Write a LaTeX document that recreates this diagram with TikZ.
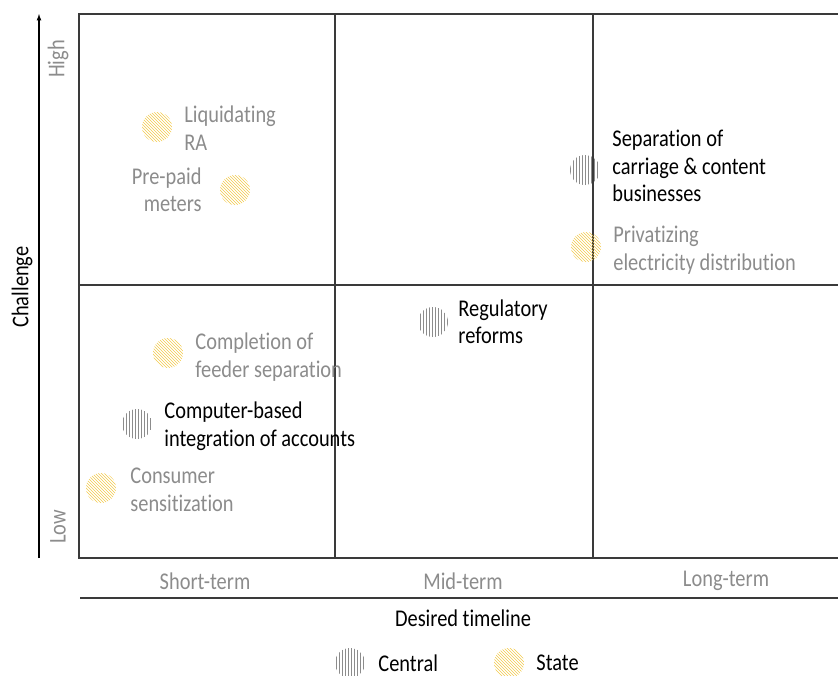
\documentclass[tikz,border=0pt]{standalone}
\usepackage{fontspec}
\setmainfont[FakeStretch=0.85, Ligatures=NoCommon]{Carlito}
\usetikzlibrary{positioning,patterns}
\definecolor{txtgray}{HTML}{8C8C8C}
\definecolor{stateyellow}{HTML}{F2C94C}
\definecolor{linegray}{HTML}{3A3A3A}

\begin{document}
\begin{tikzpicture}[x=1pt, y=-1pt, node distance=12pt,
  every node/.style={font=\fontsize{24}{27.5}\selectfont, inner sep=0pt},
  central/.style={circle, minimum size=30pt, pattern=vertical lines, pattern color=gray!90},
  state/.style={circle, minimum size=30pt, pattern=north west lines, pattern color=stateyellow},
  keylabel/.style={align=left, text=black},
  minorlabel/.style={align=left, text=txtgray}]
\useasboundingbox (0,0) rectangle (838,675);
% Quadrant grid
\draw[linegray, line width=1.5pt] (838,14) -- (79,14) -- (79,558) -- (838,558);
\draw[linegray, line width=1.5pt] (335,14) -- (335,558);
\draw[linegray, line width=1.5pt] (593,14) -- (593,558);
\draw[linegray, line width=1.5pt] (79,285) -- (838,285);
% Axes
\draw[-latex, line width=1.2pt] (39,558) -- (39,14);
\draw[linegray, line width=2pt] (80,598) -- (838,598);
\node[rotate=90] (yaxis) at (22,287) {Challenge};
\node[rotate=90, text=txtgray] (high) at (58,59) {High};
\node[rotate=90, text=txtgray] (low) at (58,527) {Low};
\node[text=txtgray] (short) at (205,581) {Short-term};
\node[text=txtgray] (mid) at (463,581) {Mid-term};
\node[text=txtgray] (long) at (726,581) {Long-term};
\node (xaxis) at (463,618) {Desired timeline};
% Short-term, high challenge
\node[state] (liq) at (157,127) {};
\node[minorlabel, right=of liq, yshift=-1pt] (liqtxt) {Liquidating\\RA};
\node[state] (prepaid) at (235,190) {};
\node[minorlabel, align=right, left=18pt of prepaid] (prepaidtxt) {Pre-paid\\meters};
% Long-term, high challenge
\node[central] (sep) at (585,170) {};
\node[keylabel, right=of sep, yshift=4pt] (septxt) {Separation of\\carriage \& content\\businesses};
\node[state] (priv) at (586,247) {};
\node[minorlabel, right=of priv, yshift=-3pt] (privtxt) {Privatizing\\electricity distribution};
% Mid-term, low challenge
\node[central] (reg) at (433,322) {};
\node[keylabel, right=10pt of reg] (regtxt) {Regulatory\\reforms};
% Short-term, low challenge
\node[state] (feeder) at (168,353) {};
\node[minorlabel, right=of feeder, yshift=-4pt] (feedertxt) {Completion of\\feeder separation};
\node[central] (acct) at (137,424) {};
\node[keylabel, right=of acct, yshift=-2pt] (accttxt) {Computer-based\\integration of accounts};
\node[state] (sens) at (101,488) {};
\node[minorlabel, right=14pt of sens, yshift=-2pt] (senstxt) {Consumer\\sensitization};
% Legend
\node[central] (keycentral) at (350,663) {};
\node[right=13pt of keycentral] (keycentraltxt) {Central};
\node[state] (keystate) at (509,663) {};
\node[right=of keystate] (keystatetxt) {State};
\end{tikzpicture}
\end{document}
